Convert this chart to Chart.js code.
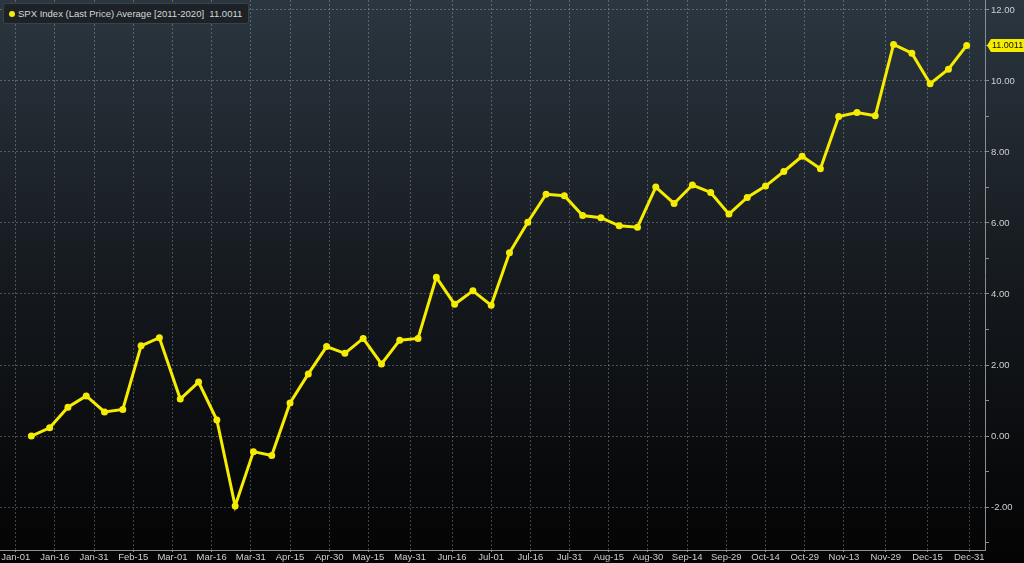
<!DOCTYPE html>
<html>
<head>
<meta charset="utf-8">
<script src="https://cdn.jsdelivr.net/npm/chart.js@4.4.0/dist/chart.umd.min.js"></script>
<style>
    html, body {
        margin: 0;
        padding: 0;
        width: 1024px;
        height: 563px;
        overflow: hidden;
        background: linear-gradient(180deg, #2b3640 0%, #171c21 45%, #08090b 85%, #040404 100%);
    }
    #wrap {
        position: relative;
        width: 1024px;
        height: 563px;
    }
    #legend {
        position: absolute;
        left: 3px;
        top: 3px;
        padding: 4px 6px 4px 5px;
        background: #1c2227;
        border: 1px solid #3a4147;
        border-radius: 3px;
        color: #d8d8d8;
        font: 9.5px "Liberation Sans", Arial, sans-serif;
        white-space: nowrap;
    }
    #legend .dot {
        display: inline-block;
        width: 6px;
        height: 6px;
        border-radius: 3px;
        background: #f5ec00;
        margin-right: 3px;
        vertical-align: 0px;
    }
</style>
</head>
<body>
<div id="wrap">
    <canvas id="spxChart" width="1024" height="563"></canvas>
    <div id="legend"><span class="dot"></span>SPX Index (Last Price) Average [2011-2020]&nbsp; 11.0011</div>
</div>

<script>
// weekly points, x = day of year on the leap-year axis (Jan-01 = 0)
const days = [
    6, 13, 20, 27, 34, 41, 48, 55, 63, 70, 77, 84, 91,
    98, 105, 112, 119, 126, 133, 140, 147, 154, 161, 168, 175, 182,
    189, 196, 203, 210, 217, 224, 231, 238, 245, 252, 259, 266, 273,
    280, 287, 294, 301, 308, 315, 322, 329, 336, 343, 350, 357, 364
];

const avgReturn = [
    0.00, 0.23, 0.81, 1.13, 0.68, 0.75, 2.54, 2.77, 1.04, 1.52, 0.45, -1.97, -0.44,
    -0.55, 0.93, 1.75, 2.52, 2.33, 2.75, 2.03, 2.70, 2.75, 4.47, 3.71, 4.09, 3.68,
    5.16, 6.02, 6.81, 6.77, 6.21, 6.15, 5.92, 5.88, 7.01, 6.55, 7.07, 6.86, 6.25,
    6.72, 7.04, 7.45, 7.88, 7.53, 9.00, 9.11, 9.02, 11.03, 10.78, 9.92, 10.33, 11.0011
];

const tickDays = [0, 15, 30, 45, 60, 75, 90, 105, 120, 135, 151, 167, 182,
    197, 212, 227, 242, 257, 272, 287, 302, 317, 333, 349, 365];
const tickLabels = ["Jan-01", "Jan-16", "Jan-31", "Feb-15", "Mar-01", "Mar-16", "Mar-31",
    "Apr-15", "Apr-30", "May-15", "May-31", "Jun-16", "Jul-01", "Jul-16", "Jul-31",
    "Aug-15", "Aug-30", "Sep-14", "Sep-29", "Oct-14", "Oct-29", "Nov-13", "Nov-29",
    "Dec-15", "Dec-31"];

const yTicks = [-3, -2, -1, 0, 1, 2, 3, 4, 5, 6, 7, 8, 9, 10, 11, 12];

const lineColor = '#f5ec00';
const gridColor = 'rgba(200, 205, 210, 0.32)';
const axisColor = '#8a8f94';
const labelColor = '#cfcfcf';
const font = '"Liberation Sans", Arial, sans-serif';

// yellow tag with the last value on the right axis
const lastValueTag = {
    id: 'lastValueTag',
    afterDraw(chart) {
        const ctx = chart.ctx;
        const yScale = chart.scales.y;
        const last = avgReturn[avgReturn.length - 1];
        const y = yScale.getPixelForValue(last);
        const x = chart.chartArea.right + 2;
        ctx.save();
        ctx.fillStyle = lineColor;
        ctx.beginPath();
        ctx.moveTo(x, y);
        ctx.lineTo(x + 4, y - 6.5);
        ctx.lineTo(1024, y - 6.5);
        ctx.lineTo(1024, y + 6.5);
        ctx.lineTo(x + 4, y + 6.5);
        ctx.closePath();
        ctx.fill();
        ctx.fillStyle = '#111';
        ctx.font = '9px ' + font;
        ctx.textBaseline = 'middle';
        ctx.fillText(last.toFixed(4), x + 5, y + 0.5);
        ctx.restore();
    }
};

new Chart(document.getElementById("spxChart"), {
    type: 'line',
    data: {
        datasets: [{
            label: 'SPX Index (Last Price) Average [2011-2020]',
            data: days.map((d, i) => ({ x: d, y: avgReturn[i] })),
            borderColor: lineColor,
            backgroundColor: lineColor,
            borderWidth: 3,
            pointRadius: 2,
            pointHoverRadius: 2,
            tension: 0
        }]
    },
    options: {
        responsive: false,
        animation: false,
        events: [],
        layout: { autoPadding: false, padding: 0 },
        plugins: {
            legend: { display: false },
            tooltip: { enabled: false }
        },
        scales: {
            x: {
                type: 'linear',
                min: -6,
                max: 371,
                afterBuildTicks: scale => {
                    scale.ticks = tickDays.map(v => ({ value: v }));
                },
                afterFit: scale => {
                    scale.height = 13;
                    scale.paddingLeft = 0;
                    scale.paddingRight = 0;
                },
                ticks: {
                    autoSkip: false,
                    maxRotation: 0,
                    padding: 0,
                    color: labelColor,
                    font: { family: font, size: 9.5 },
                    callback: (value, index) => tickLabels[index]
                },
                grid: {
                    color: gridColor,
                    tickLength: 2,
                    tickColor: axisColor
                },
                border: {
                    color: axisColor,
                    dash: [2, 2]
                }
            },
            y: {
                position: 'right',
                min: -3.21,
                max: 12.28,
                afterBuildTicks: scale => {
                    scale.ticks = yTicks.map(v => ({ value: v }));
                },
                afterFit: scale => {
                    scale.width = 39;
                    scale.paddingTop = 0;
                    scale.paddingBottom = 0;
                },
                ticks: {
                    padding: 2,
                    color: labelColor,
                    font: { family: font, size: 9.5 },
                    callback: value => (value % 2 === 0 ? value.toFixed(2) : '')
                },
                grid: {
                    color: ctx => (ctx.tick && ctx.tick.value % 2 === 0 ? gridColor : 'transparent'),
                    tickLength: 4,
                    tickColor: axisColor
                },
                border: {
                    color: axisColor,
                    dash: [2, 2]
                }
            }
        }
    },
    plugins: [lastValueTag]
});
</script>
</body>
</html>
